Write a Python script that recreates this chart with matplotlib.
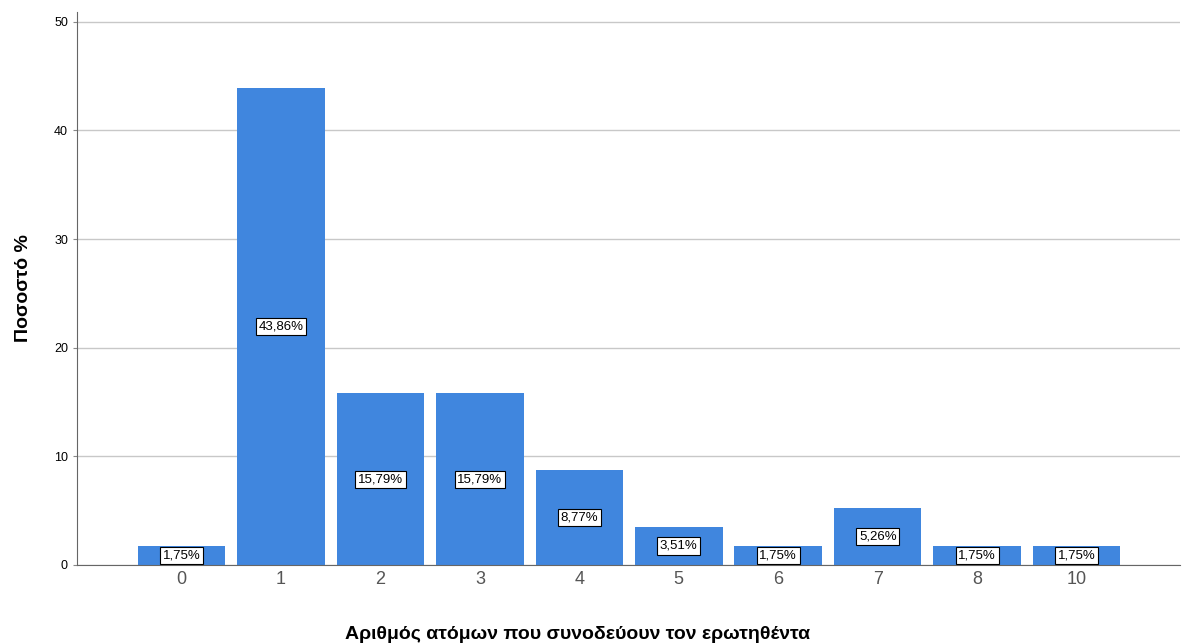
import matplotlib.pyplot as plt

plt.rcParams['font.family'] = ['Liberation Sans', 'DejaVu Sans']

# data
categories = ['0', '1', '2', '3', '4', '5', '6', '7', '8', '10']
percent = [1.75, 43.86, 15.79, 15.79, 8.77, 3.51, 1.75, 5.26, 1.75, 1.75]
labels = ['1,75%', '43,86%', '15,79%', '15,79%', '8,77%', '3,51%', '1,75%', '5,26%', '1,75%', '1,75%']

fig = plt.figure(figsize=(11.9, 6.44), dpi=100)
ax = fig.add_axes([0.0647, 0.1227, 0.927, 0.8587])

pos = list(range(len(categories)))
ax.bar(pos, percent, width=0.88, color='#4086de', zorder=2)

for x, v, lab in zip(pos, percent, labels):
    ax.text(x, v / 2, lab, ha='center', va='center', fontsize=9.5, zorder=3,
            bbox=dict(boxstyle='square,pad=0.2', fc='white', ec='black', lw=0.8))

ax.set_xlim(-1.05, 10.04)
ax.set_ylim(0, 50.9)
ax.set_yticks([0, 10, 20, 30, 40, 50])
ax.set_xticks(pos)
ax.set_xticklabels(categories, fontsize=13, color='#555555')
ax.tick_params(axis='y', labelsize=9, length=3, color='#888888')
ax.tick_params(axis='x', length=0, pad=4)
ax.grid(axis='y', color='#c8c8c8', lw=1, zorder=0)

for s in ['top', 'right']:
    ax.spines[s].set_visible(False)
ax.spines['left'].set_color('#666666')
ax.spines['bottom'].set_color('#666666')

ax.set_ylabel('Ποσοστό %', fontsize=14, fontweight='bold', labelpad=16)
ax.set_xlabel('Αριθμός ατόμων που συνοδεύουν τον ερωτηθέντα', fontsize=14,
              fontweight='bold', va='center')
# x label sits a bit left of the axes centre in the original
ax.xaxis.set_label_coords(0.454, -0.125)

fig.savefig('out.png', dpi=100)
